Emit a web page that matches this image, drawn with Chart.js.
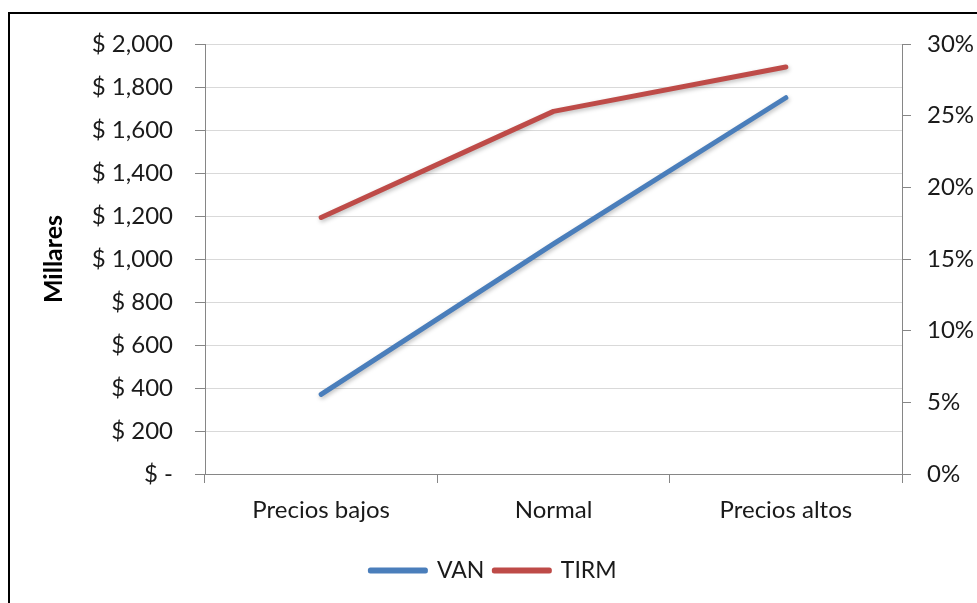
<!DOCTYPE html>
<html><head><meta charset="utf-8">
<script src="https://cdn.jsdelivr.net/npm/chart.js@4"></script>
<style>html,body{margin:0;padding:0;background:#fff}#wrap{width:977px;height:603px;position:relative}</style>
</head><body><div id="wrap"><canvas id="c" width="977" height="603"></canvas></div>
<script>
const categories = ['Precios bajos', 'Normal', 'Precios altos'];
const vanValues = [370, 1070, 1750];
const tirmValues = [17.9, 25.3, 28.4];
const vanTickValues = [0, 200, 400, 600, 800, 1000, 1200, 1400, 1600, 1800, 2000];
const tirmTickValues = [0, 5, 10, 15, 20, 25, 30];

const FONT = 'Lato';
const TXT = '#1a1a1a';
const AXIS = '#868686';

const framePlugin = {
  id: 'frame',
  beforeDraw(chart) {
    const ctx = chart.ctx;
    ctx.save();
    ctx.fillStyle = '#fff';
    ctx.fillRect(0, 0, chart.width, chart.height);
    ctx.fillStyle = '#000';
    ctx.fillRect(8, 12, chart.width - 8, 2);
    ctx.fillRect(8, 12, 2, chart.height - 12);
    ctx.restore();
  }
};
const shadowPlugin = {
  id: 'lineShadow',
  beforeDatasetDraw(chart) {
    const ctx = chart.ctx;
    ctx.save();
    ctx.shadowColor = 'rgba(0,0,0,0.25)';
    ctx.shadowBlur = 4;
    ctx.shadowOffsetX = 1;
    ctx.shadowOffsetY = 2;
  },
  afterDatasetDraw(chart) { chart.ctx.restore(); }
};

new Chart(document.getElementById('c'), {
  type: 'line',
  data: {
    labels: categories,
    datasets: [
      { label: 'VAN', data: vanValues, yAxisID: 'y', borderColor: '#4a7ebb', backgroundColor: '#4a7ebb',
        borderWidth: 5, pointRadius: 0, borderCapStyle: 'round', borderJoinStyle: 'round', tension: 0 },
      { label: 'TIRM', data: tirmValues, yAxisID: 'y1', borderColor: '#be4b48', backgroundColor: '#be4b48',
        borderWidth: 5, pointRadius: 0, borderCapStyle: 'round', borderJoinStyle: 'round', tension: 0 }
    ]
  },
  options: {
    responsive: false,
    animation: false,
    devicePixelRatio: 1,
    layout: { padding: { left: 10, right: 0, top: 44, bottom: 11 } },
    plugins: {
      legend: {
        position: 'bottom',
        labels: { boxWidth: 55, boxHeight: 1, padding: 10, color: TXT, font: { family: FONT, size: 23 } }
      },
      tooltip: { enabled: false }
    },
    scales: {
      x: {
        offset: true,
        grid: { offset: true, drawOnChartArea: false, tickLength: 9, tickColor: AXIS },
        border: { color: AXIS, width: 1 },
        ticks: { color: TXT, padding: 13, font: { family: FONT, size: 24 }, maxRotation: 0 },
        afterFit(s) { s.height = 75; }
      },
      y: {
        position: 'left',
        min: 0, max: 2000,
        afterBuildTicks(s) { s.ticks = vanTickValues.map(v => ({ value: v })); },
        ticks: {
          color: TXT, padding: 22, font: { family: FONT, size: 24 },
          callback: v => v === 0 ? '$ -' : '$ ' + v.toLocaleString('en-US')
        },
        grid: { color: '#d9d9d9', tickColor: AXIS, tickLength: 10, lineWidth: 1 },
        border: { color: AXIS, width: 1 },
        title: { display: true, text: 'Millares', color: '#000', font: { family: FONT, size: 25, weight: 'bold' }, padding: { top: 29, bottom: 0 } },
        afterFit(s) { s.width = 195; }
      },
      y1: {
        position: 'right',
        min: 0, max: 30,
        afterBuildTicks(s) { s.ticks = tirmTickValues.map(v => ({ value: v })); },
        ticks: { color: TXT, padding: 16, font: { family: FONT, size: 24 }, callback: v => v + '%' },
        grid: { drawOnChartArea: false, tickColor: AXIS, tickLength: 9 },
        border: { color: AXIS, width: 1 },
        afterFit(s) { s.width = 75; }
      }
    }
  },
  plugins: [framePlugin, shadowPlugin]
});
</script>
</body></html>
